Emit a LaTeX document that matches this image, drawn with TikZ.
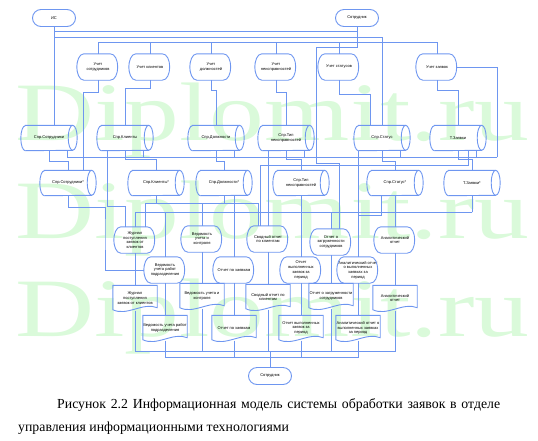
\documentclass[tikz,border=0pt]{standalone}
\usepackage{fontspec}
\usepackage{graphicx}
\setmainfont{Liberation Serif}
\newfontfamily\labfont{Liberation Sans}
\usetikzlibrary{shapes.geometric,calc}
\definecolor{ln}{RGB}{110,150,240}
\definecolor{wm}{RGB}{218,250,218}
\tikzset{
  conn/.style={draw=ln, line width=0.9pt},
  shp/.style={draw=ln, line width=0.9pt},
  lab/.style={font=\labfont\fontsize{4}{4.7}\selectfont, align=center, inner sep=0pt},
  term/.style={lab, draw=ln, line width=0.9pt, rounded corners=8.5pt, minimum width=43pt, minimum height=17pt},
  cyl/.style={lab, minimum width=56pt, minimum height=25pt},
  dbox/.style={lab, minimum width=42pt, minimum height=26pt},
  docbox/.style={lab, minimum width=44pt, minimum height=25pt},
  wmark/.style={anchor=base west, inner sep=0pt, text=wm, font=\fontsize{83}{83}\selectfont},
  captxt/.style={anchor=base west, inner sep=0pt, font=\fontsize{13.8}{16}\selectfont},
}
\newcommand\dispshape[1]{%
  \draw[shp] ([xshift=7pt]#1.north west) -- ([xshift=-9pt]#1.north east)
    .. controls ([xshift=1pt]#1.north east) and ([xshift=1pt]#1.south east) .. ([xshift=-9pt]#1.south east)
    -- ([xshift=7pt]#1.south west)
    .. controls ([xshift=2pt]#1.south west) and ([yshift=-5pt]#1.west) .. (#1.west)
    .. controls ([yshift=5pt]#1.west) and ([xshift=2pt]#1.north west) .. cycle;}
\newcommand\docshape[1]{%
  \draw[shp] (#1.north west) -- (#1.north east) -- ([yshift=3pt]#1.south east)
    .. controls ([xshift=-14pt,yshift=9pt]#1.south east) and ([xshift=14pt,yshift=-6pt]#1.south west) .. ([yshift=1pt]#1.south west) -- cycle;}
\newcommand\cylshape[1]{%
  \draw[shp] ([xshift=4.5pt]#1.north west) -- ([xshift=-4.5pt]#1.north east)
    arc[start angle=90, end angle=-90, x radius=4.5pt, y radius=12.5pt]
    -- ([xshift=4.5pt]#1.south west)
    arc[start angle=270, end angle=90, x radius=4.5pt, y radius=12.5pt] -- cycle;
  \draw[shp] ([xshift=-4.5pt]#1.north east)
    arc[start angle=90, end angle=270, x radius=4.5pt, y radius=12.5pt];}
\begin{document}
\begin{tikzpicture}[x=1pt,y=-1pt]
\useasboundingbox (0,0) rectangle (538,440);
% watermark
\node[wmark] (w1) at (15,140) {\scalebox{1.32}[1]{Diplomit.ru}};
\node[wmark] (w2) at (15,238) {\scalebox{1.32}[1]{Diplomit.ru}};
\node[wmark] (w3) at (15,336) {\scalebox{1.32}[1]{Diplomit.ru}};
% terminators
\node[term] (is) at (54,18) {ИС};
\node[term] (sotr) at (357,18) {Сотрудник};
\node[term] (sotrB) at (270,376) {Сотрудник};
% row 1 processes
\node[dbox] (p1) at (98,67) {Учет\\сотрудников};
\node[dbox] (p2) at (150,67) {Учет клиентов};
\node[dbox] (p3) at (211,67) {Учет\\должностей};
\node[dbox] (p4) at (276,67) {Учет\\неисправностей};
\node[dbox] (p5) at (339,67) {Учет статусов};
\node[dbox] (p6) at (437,67) {Учет заявок};
\foreach \n in {p1,p2,p3,p4,p5,p6} {\dispshape{\n}}
% row 1 stores
\node[cyl] (c1) at (49,138) {Спр.Сотрудники};
\node[cyl] (c2) at (125,138) {Спр.Клиенты};
\node[cyl] (c3) at (216,138) {Спр.Должности};
\node[cyl] (c4) at (286,138) {Спр.Тип\\неисправностей};
\node[cyl] (c5) at (382,138) {Спр.Статус};
\node[cyl] (c6) at (458,138) {Т.Заявки};
% row 2 stores
\node[cyl] (d1) at (68,183) {Спр.Сотрудники*};
\node[cyl] (d2) at (156,183) {Спр.Клиенты*};
\node[cyl] (d3) at (224,183) {Спр.Должности*};
\node[cyl] (d4) at (301,183) {Спр.Тип\\неисправностей};
\node[cyl] (d5) at (395,183) {Спр.Статус*};
\node[cyl] (d6) at (472,183) {Т.Заявки*};
\foreach \n in {c1,c2,c3,c4,c5,c6,d1,d2,d3,d4,d5,d6} {\cylshape{\n}}
% lower processes
\node[dbox] (q1) at (135,240) {Журнал\\поступления\\заявок от\\клиентов};
\node[dbox] (q2) at (202,239) {Ведомость\\учета и\\контроля};
\node[dbox] (q3) at (268,239) {Сводный отчет\\по клиентам};
\node[dbox] (q4) at (331,242) {Отчет о\\загруженности\\сотрудников};
\node[dbox] (q5) at (395,240) {Аналитический\\отчет};
\node[dbox] (r1) at (165,270) {Ведомость\\учета работ\\подразделения};
\node[dbox] (r2) at (234,270) {Отчет по заявкам};
\node[dbox] (r3) at (301,270) {Отчет\\выполненных\\заявок за\\период};
\node[dbox] (r4) at (358,270) {Аналитический отчет\\о выполненных\\заявках за\\период};
\foreach \n in {q1,q2,q3,q4,q5,r1,r2,r3,r4} {\dispshape{\n}}
% documents
\node[docbox] (e1) at (135,298) {Журнал\\поступления\\заявок от клиентов};
\node[docbox] (e2) at (202,296) {Ведомость учета и\\контроля};
\node[docbox] (e3) at (268,297) {Сводный отчет по\\клиентам};
\node[docbox] (e4) at (331,296) {Отчет о загруженности\\сотрудников};
\node[docbox] (e5) at (395,298) {Аналитический\\отчет};
\node[docbox] (f1) at (165,328) {Ведомость учета работ\\подразделения};
\node[docbox] (f2) at (234,328) {Отчет по заявкам};
\node[docbox] (f3) at (301,328) {Отчет выполненных\\заявок за\\период};
\node[docbox] (f4) at (358,328) {Аналитический отчет о\\выполненных заявках\\за период};
\foreach \n in {e1,e2,e3,e4,e5,f1,f2,f3,f4} {\docshape{\n}}
% top connectors
\coordinate (tA) at (357,31);
\coordinate (tB) at (357,42);
\coordinate (tC) at (382,37);
\coordinate (tD) at (316,47);
\coordinate (tE) at (316,163);
\draw[conn] (is.south) |- (tA) -- (sotr.south);
\draw[conn] (tA) -- (tB);
\foreach \n in {p1,p2,p3,p4,p5,p6} {\draw[conn] (tB) -| (\n.north);}
\draw[conn] (is.south |- tC) -- (tC) -- (tC |- c5.north);
\draw[conn] (is.south) -- (is.south |- c1.north);
\draw[conn] (sotr.south) |- (tD) -- (tE) -| ([xshift=8pt]q4.north);
% processes to stores
\draw[conn] (p1.south) -- ++(0,12) -| ([xshift=15pt]d1.north);
\draw[conn] (p2.south) -- ++(0,8) -| (c2.north);
\draw[conn] (p3.south) -- ++(0,10) -| (c3.north);
\draw[conn] (p4.south) -- ++(0,12) -| (c4.north);
\draw[conn] (p5.south) -- ++(0,14) -| ([xshift=-12pt]c5.north);
\draw[conn] (p6.south) -- ++(0,10) -| (c6.north);
% directories feeding the request register
\coordinate (rb) at (497,157);
\draw[conn] ([xshift=-1.5pt]p6.east) -| (rb);
\foreach \n in {c1,c2,c3,c4,c5,c6} {\draw[conn] (rb) -| ([xshift=18pt]\n.south);}
% stores to stores
\draw[conn] (c1.south) -- ++(0,11) -| (d1.north);
\draw[conn] (c2.south) -- ++(0,9) -| (d2.north);
\draw[conn] (c3.south) -- ++(0,11) -| (d3.north);
\draw[conn] (c4.south) -- ++(0,9) -| (d4.north);
\draw[conn] (c5.south) -- ++(0,11) -| (d5.north);
\draw[conn] (c6.south) -- ++(0,9) -| (d6.north);
\draw[conn] ([xshift=10pt]c6.south) -- ++(0,15) -| ([xshift=-8pt]q3.north);
\draw[conn] ([xshift=-18pt]c2.south) -- ++(0,56) -| ([xshift=-10pt]q1.north);
\draw[conn] (q3.north |- c4.south) -- (q3.north);
\draw[conn] (r4.north |- c5.south) -- (r4.north);
% stores to reports
\coordinate (bz) at (472,212);
\coordinate (m1) at (105,230);
\draw[conn] (d6.south) -- (bz);
\foreach \n in {q1,q2,q3,q4,q5,r1,r2,r3,r4} {\draw[conn] (bz) -| (\n.north);}
\draw[conn] (d2.south) -- ++(0,8) -| ([xshift=10pt]q1.north);
\draw[conn] (d2.south) -- ++(0,8) -| ([xshift=-10pt]q3.north);
\draw[conn] (d1.south) -- ++(0,12) -| (m1) |- (r1.west);
\draw[conn] (d3.south) -- ++(0,8) -| (q2.north);
\draw[conn] (r2.north |- d3.south) -- (r2.north);
\draw[conn] (d4.south) -- (d4.south |- r3.north);
\draw[conn] (d5.south) -- (d5.south |- q5.north);
\draw[conn] ([xshift=-14pt]d5.south) -- ++(0,20) -| (r4.north);
% reports to documents
\foreach \a/\b in {q1/e1,q2/e2,q3/e3,q4/e4,q5/e5,r1/f1,r2/f2,r3/f3,r4/f4} {\draw[conn] (\a.south) -- (\a.south |- \b.north);}
% documents to employee
\coordinate (bj) at (270,351);
\coordinate (bk) at (270,357);
\foreach \n in {e1,e2,e3,e4,e5} {\draw[conn] (\n.south) |- (bj);}
\foreach \n in {f1,f2,f3,f4} {\draw[conn] (\n.south) |- (bk);}
\draw[conn] (bj) -- (sotrB.north);
% caption
\node[captxt] (cap1) at (57,408) {\makebox[443pt][s]{Рисунок 2.2 Информационная модель системы обработки заявок в отделе}};
\node[captxt] (cap2) at (18,431) {управления информационными технологиями};
\end{tikzpicture}
\end{document}
